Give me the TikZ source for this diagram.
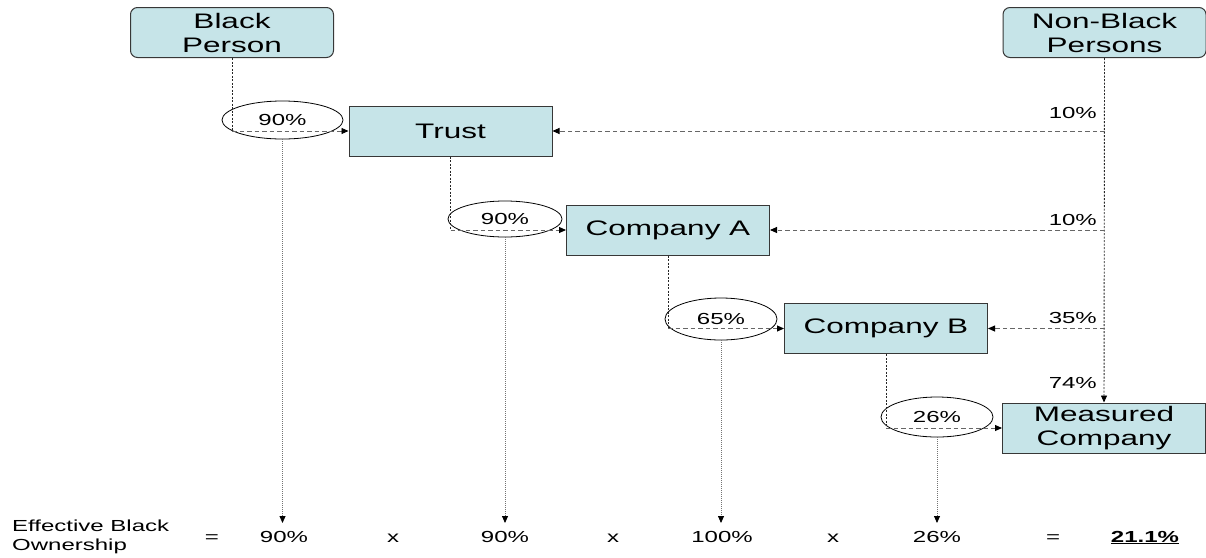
\documentclass[tikz,border=0pt]{standalone}
\usepackage{fontspec}
\setmainfont{Liberation Sans}[FakeStretch=1.5]
\usetikzlibrary{arrows.meta,shapes.geometric}
\definecolor{boxfill}{RGB}{198,228,232}
\definecolor{boxline}{RGB}{55,55,55}
\begin{document}
\begin{tikzpicture}[x=1pt,y=-1pt,
  entity/.style={draw=boxline, line width=1pt, fill=boxfill, rounded corners=7pt,
    minimum width=203pt, minimum height=50pt, inner sep=0pt, align=center,
    font=\fontsize{21}{24}\selectfont},
  company/.style={entity, rounded corners=0pt},
  share/.style={draw=black, ellipse, line width=0.8pt, inner sep=0pt,
    font=\fontsize{16}{18}\selectfont},
  lbl/.style={font=\fontsize{16}{18}\selectfont, inner sep=0pt},
  feed/.style={dash pattern=on 2pt off 1.5pt, line width=0.9pt, draw=black!85},
  own/.style={dash pattern=on 4.5pt off 3pt, line width=0.9pt, draw=black!60,
    -{Triangle[length=7pt,width=6pt,color=black]}},
  down/.style={dash pattern=on 1pt off 1pt, line width=0.8pt, draw=black!55,
    -{Triangle[length=7pt,width=6pt,color=black]}}
]
\useasboundingbox (0,0) rectangle (1206,557);

% entities
\node[entity] (bp) at (232,32.5) {Black\\Person};
\node[entity] (nb) at (1104.5,32.5) {Non-Black\\Persons};
\node[company] (trust) at (450.5,131) {Trust};
\node[company] (ca) at (668,230) {Company A};
\node[company] (cb) at (886,328.5) {Company B};
\node[company] (mc) at (1104,428) {Measured\\Company};

% black shareholding ellipses
\node[share, minimum width=121pt, minimum height=38pt] (e1) at (282.5,120) {90\%};
\node[share, minimum width=114pt, minimum height=36pt] (e2) at (505,219) {90\%};
\node[share, minimum width=112pt, minimum height=42pt] (e3) at (721,319) {65\%};
\node[share, minimum width=112pt, minimum height=40pt] (e4) at (937,417) {26\%};

% junctions
\coordinate (j1) at (bp.south |- trust.west);
\coordinate (j2) at (trust.south |- ca.west);
\coordinate (j3) at (ca.south |- cb.west);
\coordinate (j4) at (cb.south |- mc.west);
\coordinate (n1) at (nb.south |- trust.east);
\coordinate (n2) at (nb.south |- ca.east);
\coordinate (n3) at (nb.south |- cb.east);

% black ownership chain
\draw[feed] (bp.south) -- (j1);
\draw[own] (j1) -- (trust.west);
\draw[feed] (trust.south) -- (j2);
\draw[own] (j2) -- (ca.west);
\draw[feed] (ca.south) -- (j3);
\draw[own] (j3) -- (cb.west);
\draw[feed] (cb.south) -- (j4);
\draw[own] (j4) -- (mc.west);

% non-black ownership
\draw[feed, -{Triangle[length=7pt,width=6pt,color=black]}] (nb.south) -- (mc.north);
\draw[own] (n1) -- (trust.east);
\draw[own] (n2) -- (ca.east);
\draw[own] (n3) -- (cb.east);
\node[lbl, anchor=base east] (l1) at (1097,118) {10\%};
\node[lbl, anchor=base east] (l2) at (1097,225) {10\%};
\node[lbl, anchor=base east] (l3) at (1097,323) {35\%};
\node[lbl, anchor=base east] (l4) at (1097,388) {74\%};

% bottom calculation row
\node[lbl, anchor=west, align=left, font=\fontsize{16}{19}\selectfont] (eb) at (12,537) {Effective Black\\Ownership};
\node[lbl, anchor=base] (q1) at (212,542) {=};
\node[lbl, anchor=base] (r1) at (284,542) {90\%};
\node[lbl, anchor=base] (m1) at (393,542) {x};
\node[lbl, anchor=base] (r2) at (505,542) {90\%};
\node[lbl, anchor=base] (m2) at (613,542) {x};
\node[lbl, anchor=base] (r3) at (722,542) {100\%};
\node[lbl, anchor=base] (m3) at (833,542) {x};
\node[lbl, anchor=base] (r4) at (937,542) {26\%};
\node[lbl, anchor=base] (q2) at (1053,542) {=};
\node[lbl, anchor=base] (res) at (1145,542) {\underline{\textbf{21.1\%}}};

% effective ownership arrows
\draw[down] (e1.south) -- (e1.south |- 0,523);
\draw[down] (e2.south) -- (e2.south |- 0,523);
\draw[down] (e3.south) -- (e3.south |- 0,523);
\draw[down] (e4.south) -- (e4.south |- 0,523);
\end{tikzpicture}
\end{document}
